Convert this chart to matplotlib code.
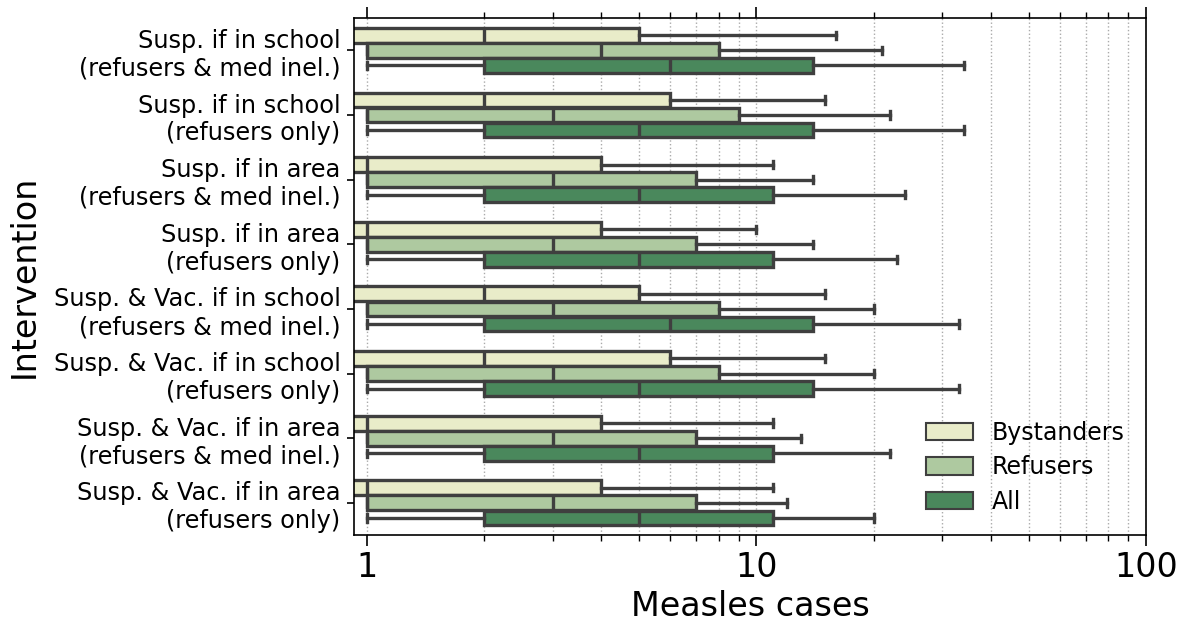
import numpy as np
import matplotlib
matplotlib.use("Agg")
import matplotlib.pyplot as plt
from matplotlib.patches import Patch

interventions = [
    "Susp. if in school\n(refusers & med inel.)",
    "Susp. if in school\n(refusers only)",
    "Susp. if in area\n(refusers & med inel.)",
    "Susp. if in area\n(refusers only)",
    "Susp. & Vac. if in school\n(refusers & med inel.)",
    "Susp. & Vac. if in school\n(refusers only)",
    "Susp. & Vac. if in area\n(refusers & med inel.)",
    "Susp. & Vac. if in area\n(refusers only)",
]
groups = ["Bystanders", "Refusers", "All"]
colors = ["#e9ecc9", "#aec9a0", "#4a885c"]

# per group: whislo, q1, median, q3, whishi for each intervention
bystanders = [
    (0, 0, 2, 5, 16),
    (0, 0, 2, 6, 15),
    (0, 0, 1, 4, 11),
    (0, 0, 1, 4, 10),
    (0, 0, 2, 5, 15),
    (0, 0, 2, 6, 15),
    (0, 0, 1, 4, 11),
    (0, 0, 1, 4, 11),
]
refusers = [
    (1, 1, 4, 8, 21),
    (1, 1, 3, 9, 22),
    (1, 1, 3, 7, 14),
    (1, 1, 3, 7, 14),
    (1, 1, 3, 8, 20),
    (1, 1, 3, 8, 20),
    (1, 1, 3, 7, 13),
    (1, 1, 3, 7, 12),
]
all_cases = [
    (1, 2, 6, 14, 34),
    (1, 2, 5, 14, 34),
    (1, 2, 5, 11, 24),
    (1, 2, 5, 11, 23),
    (1, 2, 6, 14, 33),
    (1, 2, 5, 14, 33),
    (1, 2, 5, 11, 22),
    (1, 2, 5, 11, 20),
]
series = [bystanders, refusers, all_cases]

edge = "#3f3f3f"
lw = 2.4
group_w = 0.7
slot = group_w / 3
box_w = slot * 0.98

fig = plt.figure(figsize=(11.89, 6.23), dpi=100)
ax = fig.add_axes([0.298, 0.141, 0.666, 0.830])
ax.set_xscale("log", nonpositive="clip")

pos = np.arange(len(interventions))
for j, (vals, col) in enumerate(zip(series, colors)):
    stats = []
    for lo, q1, med, q3, hi in vals:
        stats.append(dict(whislo=lo, q1=q1, med=med, q3=q3, whishi=hi, fliers=[]))
    offs = pos - group_w / 2 + slot * (j + 0.5)
    ax.bxp(stats, positions=offs, widths=box_w, vert=False, patch_artist=True,
           showfliers=False, manage_ticks=False,
           boxprops=dict(facecolor=col, edgecolor=edge, linewidth=lw),
           medianprops=dict(color=edge, linewidth=lw),
           whiskerprops=dict(color=edge, linewidth=lw),
           capprops=dict(color=edge, linewidth=lw),
           capwidths=box_w * 0.5)

ax.set_xlim(0.93, 100)
ax.set_ylim(len(interventions) - 0.5, -0.5)
ax.set_yticks(pos)
ax.set_yticklabels(interventions, fontsize=17.3)
ax.set_xticks([1, 10, 100])
ax.set_xticklabels(["1", "10", "100"], fontsize=24)
ax.tick_params(axis="x", which="major", direction="out", length=8, width=1.2, top=True)
ax.tick_params(axis="x", which="minor", direction="out", length=4, width=1, top=True)
ax.tick_params(axis="y", length=5, width=1.2, pad=5)
ax.grid(True, which="both", axis="x", linestyle=":", color="#aaaaaa", linewidth=1)
ax.set_axisbelow(True)
for s in ax.spines.values():
    s.set_linewidth(1.2)

ax.set_xlabel("Measles cases", fontsize=24)
ax.set_ylabel("Intervention", fontsize=24, labelpad=9)

handles = [Patch(facecolor=c, edgecolor=edge, linewidth=1.5, label=g) for g, c in zip(groups, colors)]
ax.legend(handles=handles, loc="lower right", frameon=False, fontsize=17,
          bbox_to_anchor=(1.0, 0.0), handlelength=2.0, handleheight=0.75,
          labelspacing=0.45, handletextpad=0.8)

fig.savefig("out.png", dpi=100)
